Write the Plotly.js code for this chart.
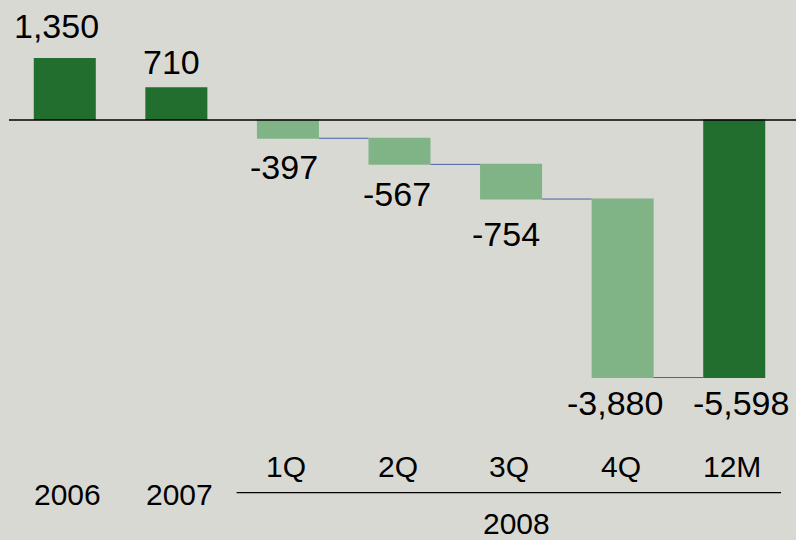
<!DOCTYPE html>
<html>
<head>
<meta charset="utf-8">
<script src="https://cdn.plot.ly/plotly-3.0.1.min.js"></script>
<style>
  html, body { margin: 0; padding: 0; background: #d9d9d4; }
  #chart { width: 796px; height: 540px; }
</style>
</head>
<body>
<div id="chart"></div>
<script>
// ---- data ----
const categories = ['2006', '2007', '1Q', '2Q', '3Q', '4Q', '12M'];
const annualCats = ['2006', '2007'];
const annualValues = [1350, 710];
const quarterCats = ['1Q', '2Q', '3Q', '4Q'];
const quarterValues = [-397, -567, -754, -3880];
const totalCat = '12M';
const totalValue = -5598;
const groupLabel = '2008';

// ---- styles ----
const DARK = '#226e2f';
const LIGHT = '#80b487';
const BG = '#d9d9d4';
const FONT = 'Liberation Sans, Arial, sans-serif';
// label nudges (px) per category, in category order
const labelDx = [-8, -5, -4, -3, -5, -8, 7];
const labelDy = [32, 25, -29, -30, -35, -25, -25];

// cumulative ends for labels
const ends = {};
annualCats.forEach((c, i) => { ends[c] = annualValues[i]; });
let run = 0;
quarterCats.forEach((c, i) => { run += quarterValues[i]; ends[c] = run; });
ends[totalCat] = totalValue;
const valueOf = {};
annualCats.forEach((c, i) => { valueOf[c] = annualValues[i]; });
quarterCats.forEach((c, i) => { valueOf[c] = quarterValues[i]; });
valueOf[totalCat] = totalValue;
const idx = (c) => categories.indexOf(c);

const traces = [
  {
    type: 'waterfall',
    x: annualCats,
    y: annualValues,
    measure: annualCats.map(() => 'absolute'),
    totals: { marker: { color: DARK } },
    connector: { visible: false },
    hoverinfo: 'skip',
    textinfo: 'none'
  },
  {
    type: 'waterfall',
    x: quarterCats.concat([totalCat]),
    y: quarterValues.concat([totalValue]),
    measure: quarterCats.map(() => 'relative').concat(['total']),
    decreasing: { marker: { color: LIGHT } },
    increasing: { marker: { color: LIGHT } },
    totals: { marker: { color: DARK } },
    connector: { mode: 'between', line: { color: '#4b5fa6', width: 1 } },
    hoverinfo: 'skip',
    textinfo: 'none'
  }
];

const annotations = [];
categories.forEach((c, i) => {
  const v = valueOf[c];
  annotations.push({
    x: idx(c), y: ends[c], xref: 'x', yref: 'y',
    text: v.toLocaleString('en-US'),
    showarrow: false,
    xanchor: 'center', yanchor: 'middle',
    xshift: labelDx[i], yshift: labelDy[i],
    font: { family: FONT, size: 34, color: '#000' }
  });
});
// category labels
annualCats.forEach((c) => {
  annotations.push({
    x: idx(c), y: 1 - 494 / 540, xref: 'x', yref: 'paper',
    text: c, showarrow: false, xanchor: 'center', yanchor: 'middle', xshift: 3,
    font: { family: FONT, size: 30, color: '#000' }
  });
});
quarterCats.concat([totalCat]).forEach((c) => {
  annotations.push({
    x: idx(c), y: 1 - 466 / 540, xref: 'x', yref: 'paper',
    text: c, showarrow: false, xanchor: 'center', yanchor: 'middle', xshift: -2,
    font: { family: FONT, size: 30, color: '#000' }
  });
});
annotations.push({
  x: idx('3Q'), y: 1 - 523 / 540, xref: 'x', yref: 'paper',
  text: groupLabel, showarrow: false, xanchor: 'center', yanchor: 'middle', xshift: 5,
  font: { family: FONT, size: 30, color: '#000' }
});

const layout = {
  width: 796, height: 540,
  margin: { l: 9, r: 6, t: 0, b: 0, pad: 0 },
  paper_bgcolor: BG, plot_bgcolor: BG,
  showlegend: false,
  waterfallmode: 'overlay',
  waterfallgap: 0.444,
  xaxis: {
    type: 'category', categoryorder: 'array', categoryarray: categories,
    range: [-0.5, categories.length - 0.5],
    showticklabels: false, showgrid: false, zeroline: false, showline: false, ticks: '', fixedrange: true
  },
  yaxis: {
    range: [-9130, 2609],
    visible: false, fixedrange: true
  },
  shapes: [
    { type: 'line', xref: 'paper', yref: 'y', x0: 0, x1: 1.01, y0: 0, y1: 0,
      line: { color: '#000', width: 1.3 }, layer: 'above' },
    { type: 'line', xref: 'x', yref: 'paper', x0: 1.54, x1: 6.42,
      y0: 1 - 492.7 / 540, y1: 1 - 492.7 / 540,
      line: { color: '#000', width: 1.3 } }
  ],
  annotations: annotations
};

Plotly.newPlot('chart', traces, layout, { displayModeBar: false, staticPlot: true });
</script>
</body>
</html>
